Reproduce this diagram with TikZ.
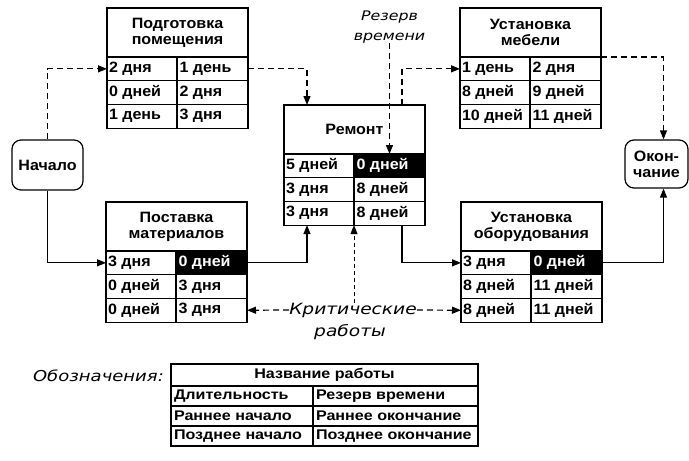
\documentclass[tikz,border=0pt]{standalone}
\usepackage{fontspec}
\setmainfont{Liberation Sans}[FakeStretch=1.07]
\newfontfamily\legfam{Liberation Sans}[FakeStretch=1.15]
\newfontfamily\obfont{DejaVu Sans}[FakeStretch=1.2]
\usetikzlibrary{arrows.meta}
\newcommand\tabfnt{\fontsize{15}{16}\selectfont\bfseries}
\newcommand\legfnt{\legfam\fontsize{14}{15}\selectfont\bfseries}
\newcommand\labfnt{\obfont\itshape\fontsize{15.5}{21}\selectfont}
\newcommand\resfnt{\obfont\itshape\fontsize{13.2}{20}\selectfont}
\newcommand\lt[1]{\makebox[66pt][l]{#1}}
\newcommand\worktable[9]{%
  \node[titlecell] (#1) at (#2) {#3};
  \node[lcell] (#1-11) at (#1.south west) {\lt{#4}};
  \node[rcellA] (#1-12) at (#1-11.north east) {\lt{#5}};
  \node[lcell] (#1-21) at (#1-11.south west) {\lt{#6}};
  \node[rcell] (#1-22) at (#1-21.north east) {\lt{#7}};
  \node[lcell] (#1-31) at (#1-21.south west) {\lt{#8}};
  \node[rcell] (#1-32) at (#1-31.north east) {\lt{#9}};
}
\tikzset{
  box/.style={draw, line width=1.2pt, outer sep=0pt, anchor=north west},
  cellbase/.style={box, inner ysep=0pt, inner xsep=2pt, minimum height=23.7pt, font=\tabfnt},
  lcell/.style={cellbase, minimum width=70pt},
  rcell/.style={cellbase, minimum width=71pt},
  blackcell/.style={rcell, fill=black, text=white},
  titlecell/.style={box, inner sep=0pt, minimum width=141pt, minimum height=49pt, align=center, font=\tabfnt},
  endbox/.style={draw, line width=1.2pt, rounded corners=9pt, align=center, inner sep=0pt, font=\tabfnt},
  lab/.style={inner sep=0pt, align=center, font=\labfnt},
  conn/.style={line width=1.2pt, -{Triangle[length=9pt,width=7pt]}},
  dconn/.style={conn, dash pattern=on 6pt off 4pt},
  fconn/.style={conn, dash pattern=on 4pt off 3pt, line width=1pt},
  legl/.style={box, inner ysep=0pt, inner xsep=3pt, minimum height=20pt, font=\legfnt, minimum width=142pt},
  legr/.style={box, inner ysep=0pt, inner xsep=3pt, minimum height=20pt, font=\legfnt, minimum width=165pt},
}
\begin{document}
\begin{tikzpicture}[x=1pt, y=-1pt]
\useasboundingbox (0,0) rectangle (689,461);

\tikzset{rcellA/.style={rcell}}
\worktable{P}{107,8}{Подготовка\\помещения}{2 дня}{1 день}{0 дней}{2 дня}{1 день}{3 дня}
\worktable{U}{460,8}{Установка\\мебели}{1 день}{2 дня}{8 дней}{9 дней}{10 дней}{11 дней}
\tikzset{rcellA/.style={blackcell}}
\worktable{R}{284,105}{Ремонт}{5 дней}{0 дней}{3 дня}{8 дней}{3 дня}{8 дней}
\worktable{M}{106,202}{Поставка\\материалов}{3 дня}{0 дней}{0 дней}{3 дня}{0 дней}{3 дня}
\worktable{O}{461,202}{Установка\\оборудования}{3 дня}{0 дней}{8 дней}{11 дней}{8 дней}{11 дней}

\node[endbox, minimum width=71pt, minimum height=50pt] (S) at (47.5,165) {Начало};
\node[endbox, minimum width=63pt, minimum height=48pt] (E) at (656.5,164) {Окон-\\чание};

% connectors
\draw[dconn] (S.north) |- (P-11.west);
\draw[dconn] (P-12.east) -| ([xshift=23pt]R.north west);
\draw[conn] (S.south) |- (M-11.west);
\draw[conn] (M-12.east) -| ([xshift=23pt]R-31.south west);
\draw[conn] ([xshift=-23pt]R-32.south east) |- (O-11.west);
\draw[dconn] ([xshift=-23pt]R.north east) |- (U-11.west);
\draw[dconn] (U.south east) -| ([xshift=7pt]E.north);
\draw[conn] (O-12.east) -| ([xshift=7pt]E.south);

% labels
\node[lab, font=\resfnt] (Res) at (R-12.north |- 0,27) {Резерв\\времени};
\draw[dconn] (Res.south) -- (R-12.north);
\node[lab] (C1) at (353,310) {Критические};
\node[lab] (C2) at (350,332) {работы};
\draw[dconn] (C1.west) -- (M-32.east);
\draw[dconn] (C1.east) -- (O-31.west);
\draw[fconn] (R-31.south east |- C1.north) -- (R-31.south east);

% legend
\node[lab, anchor=east, font=\obfont\itshape\fontsize{15}{20}\selectfont] (Leg) at (164,376) {Обозначения:};
\node[box, inner sep=0pt, minimum width=307pt, minimum height=22pt, font=\legfnt] (L) at (171,364) {Название работы};
\node[legl] (L-11) at (L.south west) {\makebox[136pt][l]{Длительность}};
\node[legr] (L-12) at (L-11.north east) {\makebox[159pt][l]{Резерв времени}};
\node[legl] (L-21) at (L-11.south west) {\makebox[136pt][l]{Раннее начало}};
\node[legr] (L-22) at (L-21.north east) {\makebox[159pt][l]{Раннее окончание}};
\node[legl] (L-31) at (L-21.south west) {\makebox[136pt][l]{Позднее начало}};
\node[legr] (L-32) at (L-31.north east) {\makebox[159pt][l]{Позднее окончание}};
\end{tikzpicture}
\end{document}
